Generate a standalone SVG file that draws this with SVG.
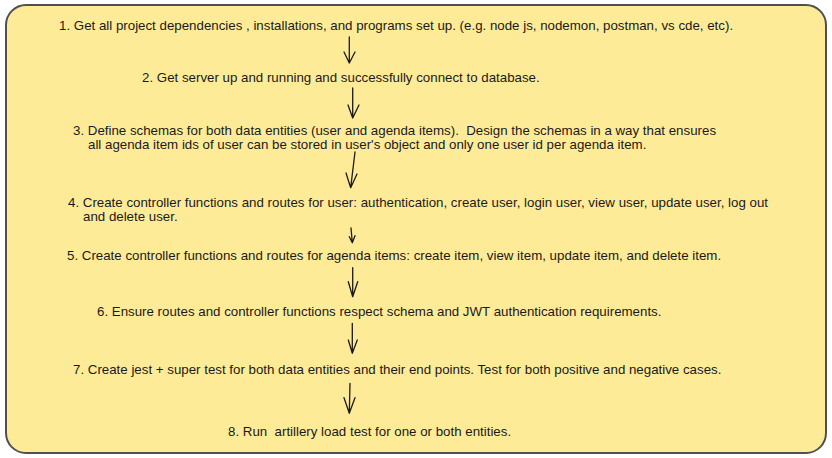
<svg xmlns="http://www.w3.org/2000/svg" width="832" height="458" viewBox="0 0 832 458">
<style>
.bg{fill:#ffffff}
.box{fill:#feeb98;stroke:#505050;stroke-width:2}
.t{font-family:"Liberation Sans",Arial,Helvetica,sans-serif;font-size:13.3px;fill:#1a1a1a;white-space:pre}
.a{fill:none;stroke:#1a1a1a;stroke-width:1.3;stroke-linecap:round;stroke-linejoin:round}
</style>
<rect class="bg" x="0" y="0" width="832" height="458"/>
<g id="panel">
<rect class="box" x="6" y="5" width="820" height="448" rx="20" ry="20"/>
</g>
<g id="step1"><text class="t" x="59" y="30">1. Get all project dependencies , installations, and programs set up. (e.g. node js, nodemon, postman, vs cde, etc).</text></g>
<g id="step2"><text class="t" x="142" y="82">2. Get server up and running and successfully connect to database.</text></g>
<g id="step3"><text class="t" x="73" y="135">3. Define schemas for both data entities (user and agenda items).  Design the schemas in a way that ensures</text><text class="t" x="88" y="149">all agenda item ids of user can be stored in user's object and only one user id per agenda item.</text></g>
<g id="step4"><text class="t" x="68" y="207">4. Create controller functions and routes for user: authentication, create user, login user, view user, update user, log out</text><text class="t" x="83" y="221">and delete user.</text></g>
<g id="step5"><text class="t" x="67" y="260">5. Create controller functions and routes for agenda items: create item, view item, update item, and delete item.</text></g>
<g id="step6"><text class="t" x="97" y="316">6. Ensure routes and controller functions respect schema and JWT authentication requirements.</text></g>
<g id="step7"><text class="t" x="73" y="374">7. Create jest + super test for both data entities and their end points. Test for both positive and negative cases.</text></g>
<g id="step8"><text class="t" x="228" y="436">8. Run  artillery load test for one or both entities.</text></g>
<g id="connectors">
<path class="a" d="M349.3,37 L349.3,63 M344,52 L349.3,63 L355,52"/>
<path class="a" d="M352.7,88 L352.7,118 M348,105 L352.7,118 L359,105"/>
<path class="a" d="M355,152 L350.7,187.7 M346,173 L350.7,187.7 L357,174"/>
<path class="a" d="M351,228 L352.3,242.7 M349.3,236.7 L352.3,242.7 L355,235.7"/>
<path class="a" d="M352.7,267.7 L352.7,296.7 M348.3,281.7 L352.7,296.7 L357.7,281.7"/>
<path class="a" d="M352.3,323.3 L352.3,353.3 M348.3,340 L352.3,353.3 L357.3,340"/>
<path class="a" d="M350,383.3 L349.3,413.3 M344,397.7 L349.3,413.3 L355,397.7"/>
</g>
</svg>
